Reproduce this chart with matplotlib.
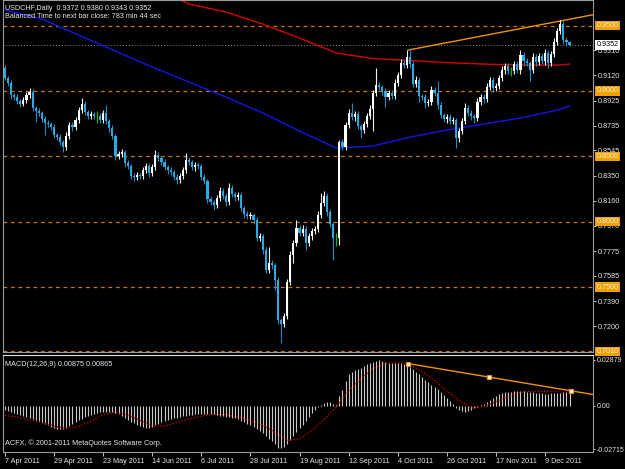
import numpy as np
import matplotlib
matplotlib.use("Agg")
import matplotlib.pyplot as plt

plt.rcParams["font.family"] = ["Liberation Sans", "DejaVu Sans"]

# daily USDCHF candles (open of first bar, then closes; wicks in pips)
first_open = 0.9175
closes = [
    0.9099, 0.9061, 0.8969, 0.8954, 0.8923, 0.8900, 0.8931, 0.8969, 0.8992, 0.8869,
    0.8846, 0.8831, 0.8785, 0.8755, 0.8747, 0.8724, 0.8663, 0.8648, 0.8609, 0.8571,
    0.8655, 0.8739, 0.8724, 0.8778, 0.8854, 0.8900, 0.8839, 0.8808, 0.8823, 0.8808,
    0.8808, 0.8778, 0.8831, 0.8770, 0.8716, 0.8655, 0.8502, 0.8518, 0.8533, 0.8449,
    0.8426, 0.8349, 0.8342, 0.8357, 0.8349, 0.8395, 0.8426, 0.8372, 0.8418, 0.8510,
    0.8487, 0.8456, 0.8418, 0.8395, 0.8380, 0.8342, 0.8319, 0.8349, 0.8395, 0.8472,
    0.8456, 0.8418, 0.8433, 0.8426, 0.8342, 0.8311, 0.8173, 0.8150, 0.8127, 0.8181,
    0.8234, 0.8196, 0.8150, 0.8257, 0.8212, 0.8189, 0.8204, 0.8104, 0.8059, 0.8043,
    0.8051, 0.8013, 0.7875, 0.7890, 0.7783, 0.7630, 0.7684, 0.7668, 0.7554, 0.7248,
    0.7217, 0.7278, 0.7538, 0.7745, 0.7837, 0.7951, 0.7913, 0.7944, 0.7837, 0.7890,
    0.7928, 0.7944, 0.8051, 0.8143, 0.8196, 0.8074, 0.7982, 0.7875, 0.7875, 0.8609,
    0.8571, 0.8739, 0.8831, 0.8801, 0.8823, 0.8732, 0.8701, 0.8747, 0.8808, 0.8862,
    0.8984, 0.9045, 0.9030, 0.8999, 0.8954, 0.8984, 0.8961, 0.9061, 0.9122, 0.9214,
    0.9198, 0.9260, 0.9206, 0.9053, 0.9084, 0.8961, 0.8954, 0.8908, 0.8915, 0.9007,
    0.8984, 0.8892, 0.8816, 0.8785, 0.8801, 0.8770, 0.8778, 0.8640, 0.8693, 0.8770,
    0.8869, 0.8831, 0.8808, 0.8793, 0.8915, 0.8954, 0.8938, 0.9030, 0.9084, 0.9022,
    0.9038, 0.9099, 0.9160, 0.9191, 0.9152, 0.9152, 0.9206, 0.9160, 0.9275, 0.9229,
    0.9214, 0.9160, 0.9260, 0.9221, 0.9267, 0.9229, 0.9290, 0.9214, 0.9282, 0.9374,
    0.9458, 0.9512, 0.9390, 0.9372, 0.9352,
]
upper_wick = [
    20, 15, 25, 15, 20, 15, 20, 25, 30, 20,
    15, 20, 15, 20, 25, 15, 20, 15, 20, 15,
    30, 25, 20, 20, 25, 50, 20, 15, 25, 15,
    40, 20, 25, 60, 15, 20, 15, 25, 20, 15,
    20, 15, 20, 25, 15, 20, 25, 20, 25, 40,
    20, 15, 20, 15, 20, 15, 20, 25, 20, 55,
    20, 15, 25, 20, 15, 20, 15, 20, 15, 25,
    30, 20, 20, 40, 20, 15, 25, 20, 15, 20,
    25, 15, 20, 25, 15, 20, 120, 20, 15, 20,
    15, 25, 20, 30, 25, 60, 20, 30, 20, 25,
    20, 25, 30, 80, 40, 25, 20, 15, 40, 15,
    25, 20, 30, 80, 25, 20, 15, 25, 20, 30,
    25, 130, 20, 15, 20, 25, 20, 30, 25, 30,
    25, 55, 70, 25, 30, 20, 15, 20, 25, 30,
    20, 90, 20, 15, 25, 20, 20, 15, 25, 20,
    40, 20, 25, 15, 30, 25, 20, 30, 25, 20,
    25, 20, 30, 20, 25, 30, 20, 25, 40, 20,
    20, 15, 30, 20, 25, 20, 30, 20, 25, 30,
    25, 30, 20, 25, 8,
]
lower_wick = [
    15, 20, 30, 20, 25, 20, 15, 20, 25, 20,
    85, 20, 25, 90, 20, 25, 20, 25, 20, 40,
    20, 25, 30, 25, 20, 20, 25, 20, 20, 25,
    50, 20, 25, 20, 30, 25, 30, 20, 25, 30,
    25, 20, 30, 20, 25, 20, 25, 30, 20, 25,
    20, 25, 20, 30, 25, 20, 30, 25, 20, 20,
    25, 20, 30, 25, 20, 25, 30, 25, 40, 25,
    20, 25, 30, 25, 20, 30, 25, 20, 30, 25,
    20, 30, 25, 20, 30, 25, 20, 30, 80, 30,
    145, 20, 25, 20, 60, 20, 25, 20, 50, 25,
    30, 20, 25, 20, 25, 30, 25, 170, 60, 50,
    25, 20, 25, 20, 30, 25, 60, 20, 25, 20,
    170, 25, 20, 30, 80, 25, 20, 25, 20, 25,
    20, 25, 30, 25, 20, 45, 25, 40, 25, 20,
    25, 30, 25, 20, 30, 25, 20, 75, 30, 20,
    25, 20, 30, 40, 25, 20, 30, 25, 20, 30,
    20, 25, 20, 30, 25, 40, 25, 20, 30, 40,
    25, 80, 20, 30, 25, 20, 30, 40, 25, 20,
    25, 20, 30, 25, 9,
]

# moving averages read at a few bars
blue_idx = [0, 12, 24, 36, 48, 60, 72, 84, 96, 108, 120, 132, 144, 156, 168, 180, 184]
blue_ma = [0.9619, 0.9550, 0.9428, 0.9305, 0.9183, 0.9068, 0.8954, 0.8831, 0.8693,
           0.8563, 0.8579, 0.8647, 0.8701, 0.8747, 0.8793, 0.8854, 0.8885]
red_idx = [48, 60, 72, 84, 96, 108, 120, 132, 144, 156, 168, 180, 184]
red_ma = [0.9803, 0.9665, 0.9604, 0.9512, 0.9405, 0.9290, 0.9248, 0.9233, 0.9217,
          0.9206, 0.9198, 0.9198, 0.9206]

levels = [0.9500, 0.9000, 0.8500, 0.8000, 0.7500, 0.7010]
level_labels = ["0.9500", "0.9000", "0.8500", "0.8000", "0.7500", "0.7010"]
price_ticks = [0.9310, 0.9120, 0.8925, 0.8735, 0.8545, 0.8350, 0.8160, 0.7970,
               0.7775, 0.7585, 0.7390, 0.7200]
bid = 0.9352
trend_x = [131.4, 191.6]
trend_y = [0.9313, 0.9583]

macd_hist = [
    -0.0025, -0.0031, -0.0037, -0.0043, -0.0050, -0.0056, -0.0063, -0.0070, -0.0077, -0.0084,
    -0.0090, -0.0097, -0.0105, -0.0113, -0.0121, -0.0129, -0.0137, -0.0143, -0.0146, -0.0144,
    -0.0137, -0.0126, -0.0112, -0.0099, -0.0088, -0.0079, -0.0070, -0.0062, -0.0056, -0.0050,
    -0.0045, -0.0040, -0.0036, -0.0035, -0.0035, -0.0037, -0.0042, -0.0050, -0.0062, -0.0075,
    -0.0088, -0.0099, -0.0109, -0.0118, -0.0127, -0.0133, -0.0136, -0.0135, -0.0131, -0.0121,
    -0.0110, -0.0102, -0.0094, -0.0088, -0.0084, -0.0078, -0.0073, -0.0069, -0.0065, -0.0062,
    -0.0058, -0.0055, -0.0052, -0.0050, -0.0049, -0.0049, -0.0050, -0.0051, -0.0053, -0.0056,
    -0.0060, -0.0063, -0.0066, -0.0070, -0.0074, -0.0077, -0.0084, -0.0092, -0.0102, -0.0110,
    -0.0120, -0.0130, -0.0142, -0.0155, -0.0170, -0.0186, -0.0205, -0.0222, -0.0240, -0.0262,
    -0.0266, -0.0255, -0.0236, -0.0213, -0.0190, -0.0165, -0.0140, -0.0116, -0.0092, -0.0068,
    -0.0045, -0.0025, -0.0006, 0.0008, 0.0017, 0.0023, 0.0027, 0.0014, 0.0006, 0.0060,
    0.0100, 0.0155, 0.0200, 0.0215, 0.0225, 0.0232, 0.0240, 0.0250, 0.0260, 0.0270,
    0.0278, 0.0283, 0.0285, 0.0282, 0.0276, 0.0272, 0.0270, 0.0270, 0.0269, 0.0268,
    0.0262, 0.0254, 0.0247, 0.0232, 0.0215, 0.0198, 0.0180, 0.0165, 0.0150, 0.0134,
    0.0121, 0.0105, 0.0088, 0.0070, 0.0048, 0.0030, 0.0010, -0.0010, -0.0025, -0.0033,
    -0.0036, -0.0033, -0.0024, -0.0015, -0.0006, 0.0003, 0.0015, 0.0027, 0.0038, 0.0050,
    0.0064, 0.0074, 0.0080, 0.0086, 0.0088, 0.0090, 0.0091, 0.0092, 0.0092, 0.0091,
    0.0090, 0.0089, 0.0087, 0.0084, 0.0081, 0.0079, 0.0078, 0.0078, 0.0079, 0.0079,
    0.0080, 0.0083, 0.0086, 0.0087, 0.00875,
]
signal_idx = list(range(0, 185, 4))
signal = [
    -0.0060, -0.0070, -0.0085, -0.0104, -0.0125, -0.0140, -0.0128, -0.0095, -0.0055, -0.0040,
    -0.0055, -0.0090, -0.0125, -0.0125, -0.0105, -0.0082, -0.0063, -0.0052, -0.0055, -0.0068,
    -0.0088, -0.0120, -0.0165, -0.0215, -0.0205, -0.0155, -0.0085, -0.0005, 0.0095, 0.0170,
    0.0235, 0.0265, 0.0272, 0.0258, 0.0215, 0.0160, 0.0095, 0.0035, -0.0012, -0.0005,
    0.0028, 0.0060, 0.0085, 0.0093, 0.0092, 0.0089, 0.00865,
]
macd_trend_x = [131.5, 191.6]
macd_trend_y = [0.0265, 0.0072]
anchor_x = [131.5, 157.9, 184.5]
anchor_y = [0.0265, 0.0180, 0.0095]

date_idx = [0, 16, 32, 48, 64, 80, 96, 112, 128, 144, 160, 176]
date_labels = ["7 Apr 2011", "29 Apr 2011", "23 May 2011", "14 Jun 2011", "6 Jul 2011",
               "28 Jul 2011", "19 Aug 2011", "12 Sep 2011", "4 Oct 2011", "26 Oct 2011",
               "17 Nov 2011", "9 Dec 2011"]

W, H = 625, 469
fig = plt.figure(figsize=(W / 100, H / 100), dpi=100, facecolor="black")
ax = fig.add_axes([3 / W, 1 - 352 / H, 590 / W, 352 / H])
axm = fig.add_axes([3 / W, 1 - 452 / H, 590 / W, 97 / H])

txt = "#e6e6e6"
fs = 5.2
for a in (ax, axm):
    a.set_facecolor("black")
    for s in a.spines.values():
        s.set_color("#9a9a9a")
        s.set_linewidth(0.8)
    a.set_xlim(-0.65, 191.65)
axm.spines["top"].set_color("#e0e0e0")

# candles
c = np.array(closes)
o = np.concatenate([[first_open], c[:-1]])
hi = np.maximum(o, c) + np.array(upper_wick) * 0.0001
lo = np.minimum(o, c) - np.array(lower_wick) * 0.0001
x = np.arange(len(c))
up = c > o
dn = c < o
dj = c == o
ax.vlines(x[up], lo[up], hi[up], color="#f0f0f0", lw=0.8, zorder=3)
ax.vlines(x[dn], lo[dn], hi[dn], color="#1f8cc0", lw=0.8, zorder=3)
ax.vlines(x[dj], lo[dj], hi[dj], color="#00c000", lw=0.9, zorder=3)
ax.bar(x[up], (c - o)[up], bottom=o[up], width=0.7, color="#ffffff", lw=0, zorder=4)
ax.bar(x[dn], (o - c)[dn], bottom=c[dn], width=0.7, color="#2aaae2", lw=0, zorder=4)

ax.plot(blue_idx, blue_ma, color="#1414e6", lw=1, zorder=2)
ax.plot(red_idx, red_ma, color="#d40000", lw=1, zorder=2)

for lv in levels:
    ax.axhline(lv, color="#c87800", lw=0.9, ls=(0, (3, 3)), zorder=1)
ax.axhline(bid, color="#8a8a8a", lw=0.7, ls=(0, (1, 2)), zorder=1)
ax.plot(trend_x, trend_y, color="#f09010", lw=1, zorder=2)

ax.set_ylim(0.7003, 0.9696)
ax.set_xticks([])
ax.yaxis.tick_right()
ax.set_yticks(price_ticks)
ax.set_yticklabels([f"{t:.4f}" for t in price_ticks])
ax.tick_params(axis="y", colors=txt, labelsize=fs, length=2, width=0.6, pad=1.5)

ytr = ax.get_yaxis_transform()
for lv, lab in zip(levels, level_labels):
    ax.text(1.006, lv, lab, transform=ytr, fontsize=fs, color="#fff4e0", va="center",
            ha="left", clip_on=False, zorder=10,
            bbox=dict(boxstyle="square,pad=0.15", fc="#f0a000", ec="none"))
ax.text(1.006, bid, f"{bid:.4f}", transform=ytr, fontsize=fs, color="black", va="center",
        ha="left", clip_on=False, zorder=10,
        bbox=dict(boxstyle="square,pad=0.15", fc="white", ec="none"))

fig.text(5 / W, 1 - 8 / H, "USDCHF,Daily  0.9372 0.9380 0.9343 0.9352", color=txt,
         fontsize=fs, va="center")
fig.text(5 / W, 1 - 17 / H, "Balanced Time to next bar close: 783 min 44 sec", color=txt,
         fontsize=fs, va="center")

# MACD panel
axm.vlines(x, 0, macd_hist, color="#c8c8c8", lw=0.8, zorder=2)
axm.plot(signal_idx, signal, color="#e00000", lw=0.9, ls=(0, (1, 1.5)), zorder=3)
axm.plot(macd_trend_x, macd_trend_y, color="#f09010", lw=1, zorder=4)
axm.scatter(anchor_x, anchor_y, marker="s", s=9, facecolor="white", edgecolor="#f09010",
            lw=0.8, zorder=5)
axm.set_ylim(-0.0288, 0.0319)
axm.yaxis.tick_right()
axm.set_yticks([0.02879, 0.0, -0.02715])
axm.set_yticklabels(["0.02879", "0.00", "-0.02715"])
axm.tick_params(axis="y", colors=txt, labelsize=5.0, length=1.5, width=0.6, pad=1)
axm.set_xticks(date_idx)
axm.set_xticklabels(date_labels)
axm.tick_params(axis="x", colors=txt, labelsize=fs, length=3, width=0.6, pad=1.5)
for lab in axm.get_xticklabels():
    lab.set_horizontalalignment("left")

fig.text(5 / W, 1 - 364 / H, "MACD(12,26,9) 0.00875 0.00865", color=txt, fontsize=fs,
         va="center")
fig.text(5 / W, 1 - 443 / H, "ACFX, \u00a9 2001-2011 MetaQuotes Software Corp.", color=txt,
         fontsize=fs, va="center")

fig.savefig("out.png", dpi=100, facecolor="black")
